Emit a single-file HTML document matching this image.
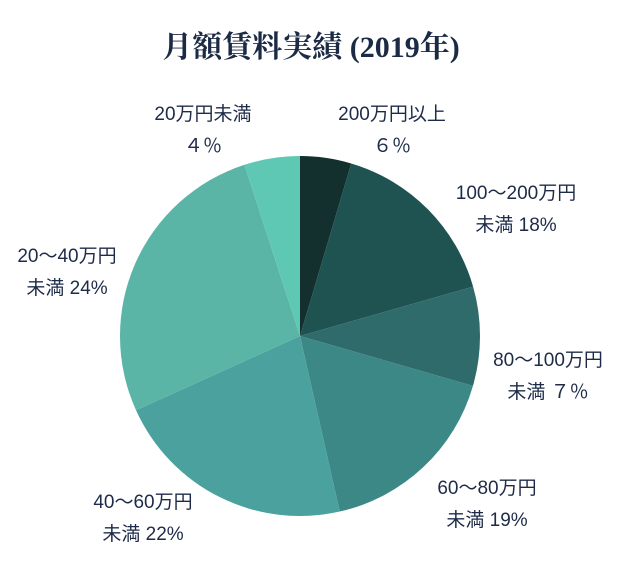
<!DOCTYPE html>
<html><head><meta charset="utf-8"><style>
body{margin:0;background:#fff;width:622px;height:580px;overflow:hidden}
svg{display:block}
.t{font-family:"Liberation Serif","Noto Serif CJK SC",serif;font-weight:bold;font-size:30px;fill:#1b2a45}
.l{font-family:"Liberation Sans","Noto Sans CJK JP",sans-serif;font-size:19px;fill:#1e2b48}
</style></head><body>
<svg id="chart" width="622" height="580">
<text class="t" x="311" y="57" text-anchor="middle">月額賃料実績 (2019年)</text>
<g id="slices"></g><g id="labels"></g>
</svg>
<script>
const categories=["200万円以上","100〜200万円未満","80〜100万円未満","60〜80万円未満","40〜60万円未満","20〜40万円未満","20万円未満"];
const shares=[4.6,16,8.9,17,21.8,26.8,5];
const printedValues=["6％","18%","７％","19%","22%","24%","４％"];
const colors=["#13302f","#1f5352","#2e6b6a","#3b8886","#4aa19e","#5bb5a6","#5fc8b5"];
const labelLines=[["200万円以上","６％"],["100〜200万円","未満  18%"],["80〜100万円","未満  ７％"],["60〜80万円","未満 19%"],["40〜60万円","未満  22%"],["20〜40万円","未満  24%"],["20万円未満","４％"]];
const labelPos=[[392,120,"middle"],[516,199,"middle"],[548,366,"middle"],[487,494,"middle"],[143,508,"middle"],[67,262,"middle"],[203,120,"middle"]];
const cx=300,cy=336,r=180,NS="http://www.w3.org/2000/svg";
const total=shares.reduce((a,b)=>a+b,0);
function pt(a){return [cx+r*Math.sin(a),cy-r*Math.cos(a)];}
let acc=0;
const gs=document.getElementById("slices"),gl=document.getElementById("labels");
shares.forEach((v,i)=>{
 const a0=acc/total*2*Math.PI;acc+=v;const a1=acc/total*2*Math.PI;
 const p0=pt(a0),p1=pt(a1);
 const p=document.createElementNS(NS,"path");
 p.setAttribute("d",`M${cx},${cy}L${p0[0]},${p0[1]}A${r},${r} 0 ${a1-a0>Math.PI?1:0} 1 ${p1[0]},${p1[1]}Z`);
 p.setAttribute("fill",colors[i]);
 
 
 gs.appendChild(p);
 const t=document.createElementNS(NS,"text");
 t.setAttribute("class","l");t.setAttribute("x",labelPos[i][0]);t.setAttribute("y",labelPos[i][1]);t.setAttribute("text-anchor",labelPos[i][2]);
 
 
 labelLines[i].forEach((s,j)=>{const ts=document.createElementNS(NS,"tspan");ts.setAttribute("x",labelPos[i][0]);ts.setAttribute("dy",j?32:0);ts.textContent=s;t.appendChild(ts);});
 gl.appendChild(t);
});
</script>
</body></html>
